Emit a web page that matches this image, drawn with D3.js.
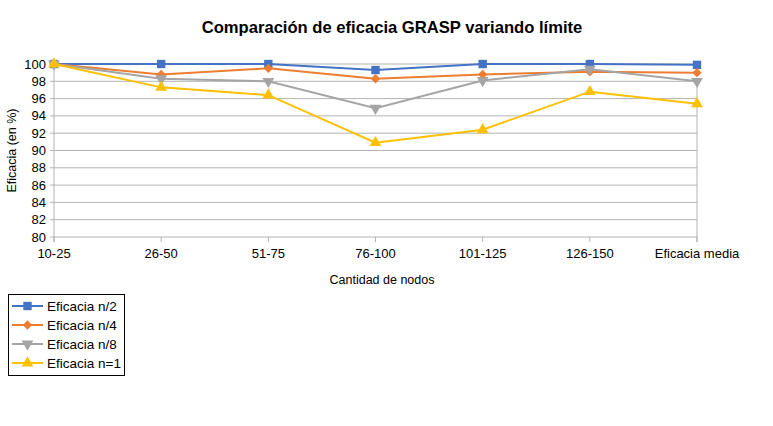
<!DOCTYPE html>
<html>
<head>
<meta charset="utf-8">
<script src="https://cdn.jsdelivr.net/npm/d3@7"></script>
<style>
  body { margin: 0; background: #fff; }
  text { font-family: "Liberation Sans", Arial, sans-serif; fill: #000; }
</style>
</head>
<body>
<div id="chart"></div>
<script>
var categories = ['10-25', '26-50', '51-75', '76-100', '101-125', '126-150', 'Eficacia media'];
var seriesNames = ['Eficacia n/2', 'Eficacia n/4', 'Eficacia n/8', 'Eficacia n=1'];
var valuesN2 = [100, 100, 100, 99.3, 100, 100, 99.9];
var valuesN4 = [100, 98.8, 99.5, 98.3, 98.8, 99.1, 99.0];
var valuesN8 = [100, 98.3, 98.0, 94.9, 98.1, 99.4, 98.0];
var valuesN1 = [100, 97.3, 96.4, 90.9, 92.4, 96.8, 95.4];
var yTicks = [80, 82, 84, 86, 88, 90, 92, 94, 96, 98, 100];

var width = 773, height = 426;
var margin = { top: 64, right: 76, bottom: 189, left: 54 };
var colors = ['#4472c4', '#ed7d31', '#a5a5a5', '#ffc000'];

var svg = d3.select('#chart').append('svg')
    .attr('width', width)
    .attr('height', height);

var x = d3.scalePoint()
    .domain(categories)
    .range([margin.left, width - margin.right]);
var y = d3.scaleLinear()
    .domain([80, 100])
    .range([height - margin.bottom, margin.top]);

// grid
svg.append('g').selectAll('line')
    .data(yTicks)
    .enter().append('line')
    .attr('x1', margin.left - 4)
    .attr('x2', width - margin.right)
    .attr('y1', function (d) { return y(d); })
    .attr('y2', function (d) { return y(d); })
    .attr('stroke', '#b3b3b3')
    .attr('stroke-width', 1);

// axes
svg.append('line')
    .attr('x1', margin.left).attr('x2', margin.left)
    .attr('y1', y(100)).attr('y2', y(80) + 5)
    .attr('stroke', '#b3b3b3');
svg.append('line')
    .attr('x1', width - margin.right).attr('x2', width - margin.right)
    .attr('y1', y(98)).attr('y2', y(80) + 5)
    .attr('stroke', '#b3b3b3');
svg.append('g').selectAll('line')
    .data(categories)
    .enter().append('line')
    .attr('x1', function (d) { return x(d); })
    .attr('x2', function (d) { return x(d); })
    .attr('y1', y(80))
    .attr('y2', y(80) + 5)
    .attr('stroke', '#b3b3b3');

svg.append('g').selectAll('text')
    .data(yTicks)
    .enter().append('text')
    .attr('x', margin.left - 8)
    .attr('y', function (d) { return y(d); })
    .attr('dy', '0.35em')
    .attr('text-anchor', 'end')
    .style('font-size', '13px')
    .text(function (d) { return d; });

svg.append('g').selectAll('text')
    .data(categories)
    .enter().append('text')
    .attr('x', function (d) { return x(d); })
    .attr('y', y(80) + 21)
    .attr('text-anchor', 'middle')
    .style('font-size', '13px')
    .text(function (d) { return d; });

// titles
svg.append('text')
    .attr('x', 392).attr('y', 33)
    .attr('text-anchor', 'middle')
    .style('font-size', '16.6px')
    .style('font-weight', 'bold')
    .text('Comparación de eficacia GRASP variando límite');
svg.append('text')
    .attr('x', 382).attr('y', 284)
    .attr('text-anchor', 'middle')
    .style('font-size', '12.5px')
    .text('Cantidad de nodos');
svg.append('text')
    .attr('transform', 'translate(16,' + ((y(80) + y(100)) / 2) + ') rotate(-90)')
    .attr('text-anchor', 'middle')
    .style('font-size', '12.5px')
    .text('Eficacia (en %)');

// series
var allSeries = [valuesN2, valuesN4, valuesN8, valuesN1];
var line = d3.line()
    .x(function (d, i) { return x(categories[i]); })
    .y(function (d) { return y(d); });

function markerPath(k) {
    if (k === 0) return d3.symbol(d3.symbolSquare, 70)();
    if (k === 1) return d3.symbol(d3.symbolSquare, 44)();
    return d3.symbol(d3.symbolTriangle, 60)();
}
function markerRot(k) {
    if (k === 1) return ' rotate(45)';
    if (k === 2) return ' rotate(180)';
    return '';
}

allSeries.forEach(function (vals, k) {
    svg.append('path')
        .datum(vals)
        .attr('d', line)
        .attr('fill', 'none')
        .attr('stroke', colors[k])
        .attr('stroke-width', 2);
    svg.append('g').selectAll('path')
        .data(vals)
        .enter().append('path')
        .attr('d', markerPath(k))
        .attr('transform', function (d, i) {
            return 'translate(' + x(categories[i]) + ',' + y(d) + ')' + markerRot(k);
        })
        .attr('fill', colors[k]);
});

// legend
var legend = svg.append('g').attr('transform', 'translate(8,294)');
legend.append('rect')
    .attr('x', 0.5).attr('y', 0.5)
    .attr('width', 116).attr('height', 81)
    .attr('fill', '#fff')
    .attr('stroke', '#000');
seriesNames.forEach(function (name, k) {
    var ly = 12 + k * 19;
    legend.append('line')
        .attr('x1', 4).attr('x2', 35)
        .attr('y1', ly).attr('y2', ly)
        .attr('stroke', colors[k])
        .attr('stroke-width', 2);
    legend.append('path')
        .attr('d', markerPath(k))
        .attr('transform', 'translate(19.5,' + ly + ')' + markerRot(k))
        .attr('fill', colors[k]);
    legend.append('text')
        .attr('x', 39).attr('y', ly)
        .attr('dy', '0.35em')
        .style('font-size', '13.5px')
        .text(name);
});
</script>
</body>
</html>
